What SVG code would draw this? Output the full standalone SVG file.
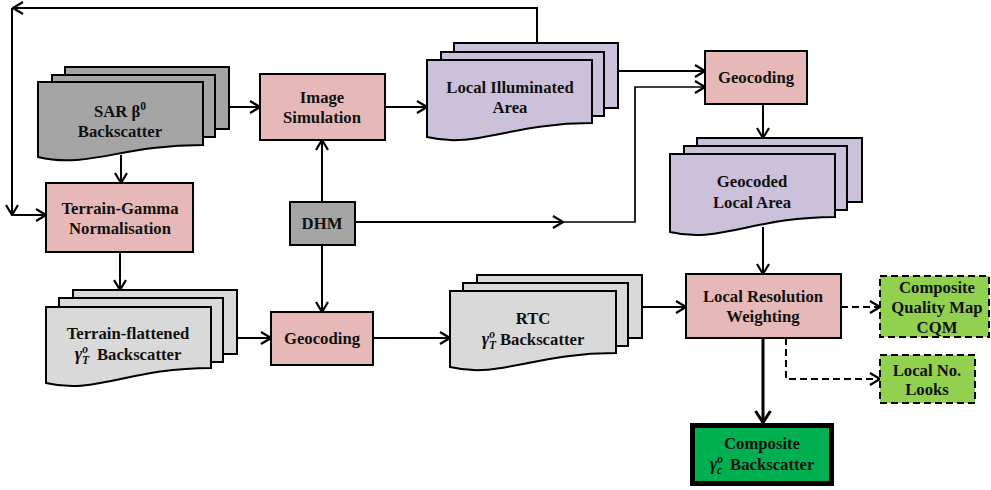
<svg xmlns="http://www.w3.org/2000/svg" width="991" height="490" viewBox="0 0 991 490">
<style>
text{font-family:"Liberation Serif","Times New Roman",serif;font-weight:bold;font-size:16.7px;fill:#111;text-anchor:middle}
.sh{stroke:#000;stroke-width:2}
.pink{fill:#e6b9b8}
.dg{fill:#a5a5a5}
.lg{fill:#d9d9d9}
.lav{fill:#ccc1da}
.lgr{fill:#92d050}
.grn{fill:#00b050}
.dash{stroke-dasharray:7 4}
.ln{fill:none;stroke:#000;stroke-width:2}
.it{font-style:italic;font-size:18px}
.sm{font-size:11.5px;font-style:italic}
</style>
<defs>
<marker id="ah" markerUnits="userSpaceOnUse" viewBox="0 0 12 14" refX="11" refY="7" markerWidth="12" markerHeight="14" orient="auto">
<path d="M1,1 L11,7 L1,13" fill="none" stroke="#000" stroke-width="2.2"/>
</marker>
<marker id="ahb" markerUnits="userSpaceOnUse" viewBox="0 0 14 18" refX="13" refY="9" markerWidth="14" markerHeight="18" orient="auto">
<path d="M1,1.5 L12.5,9 L1,16.5" fill="none" stroke="#000" stroke-width="3"/>
</marker>
</defs>

<g id="connectors">
<path class="ln" d="M537,43 V8 H13" marker-end="url(#ah)"/>
<path class="ln" d="M12,8 V215" marker-end="url(#ah)"/>
<path class="ln" d="M12,215 H46" marker-end="url(#ah)"/>
<path class="ln" d="M229,107 H260" marker-end="url(#ah)"/>
<path class="ln" d="M121,155 V183" marker-end="url(#ah)"/>
<path class="ln" d="M385,107 H427" marker-end="url(#ah)"/>
<path class="ln" d="M322,202 V140" marker-end="url(#ah)"/>
<path class="ln" d="M355,222 H563" marker-end="url(#ah)"/>
<path class="ln" d="M563,222 H635 V87 H705" marker-end="url(#ah)" style="stroke-width:1.7"/>
<path class="ln" d="M618,71 H705" marker-end="url(#ah)"/>
<path class="ln" d="M763,104 V138" marker-end="url(#ah)"/>
<path class="ln" d="M120,252 V290" marker-end="url(#ah)"/>
<path class="ln" d="M322,245 V312" marker-end="url(#ah)"/>
<path class="ln" d="M237,338 H271" marker-end="url(#ah)"/>
<path class="ln" d="M373,338 H450" marker-end="url(#ah)"/>
<path class="ln" d="M642,307 H686" marker-end="url(#ah)"/>
<path class="ln" d="M763,227 V274" marker-end="url(#ah)"/>
<path class="ln" d="M763,338 V423" marker-end="url(#ahb)" style="stroke-width:3"/>
<path class="ln dash" d="M841,307 H880" marker-end="url(#ah)"/>
<path class="ln dash" d="M786,338 V379 H880" marker-end="url(#ah)"/>
</g>

<g id="sar">
<rect class="sh dg" x="65" y="67" width="164" height="62"/>
<rect class="sh dg" x="52" y="75" width="163" height="62"/>
<path class="sh dg" d="M38,82 H203 V145 C120.5,145 87.5,169 38,157 Z"/>
<text x="120" y="117">SAR  β<tspan font-size="11.5" dy="-7">0</tspan></text>
<text x="120" y="137">Backscatter</text>
</g>

<g id="image-simulation">
<rect class="sh pink" x="260" y="74" width="125" height="66"/>
<text x="322" y="103">Image</text>
<text x="322" y="123">Simulation</text>
</g>

<g id="local-illuminated">
<rect class="sh lav" x="454" y="43" width="164" height="65"/>
<rect class="sh lav" x="441" y="52" width="163" height="64"/>
<path class="sh lav" d="M427,60 H592 V123 C509.5,123 476.5,149 427,137 Z"/>
<text x="510" y="93">Local Illuminated</text>
<text x="510" y="113">Area</text>
</g>

<g id="geocoding-top">
<rect class="sh pink" x="705" y="51" width="102" height="53"/>
<text x="756" y="83">Geocoding</text>
</g>

<g id="geocoded-local-area">
<rect class="sh lav" x="697" y="138" width="165" height="64"/>
<rect class="sh lav" x="684" y="146" width="163" height="64"/>
<path class="sh lav" d="M670,154 H835 V217 C752.5,217 719.5,244 670,232 Z"/>
<text x="752" y="187">Geocoded</text>
<text x="752" y="208">Local Area</text>
</g>

<g id="terrain-gamma">
<rect class="sh pink" x="46" y="183" width="147" height="69"/>
<text x="120" y="214">Terrain-Gamma</text>
<text x="120" y="234">Normalisation</text>
</g>

<g id="dhm">
<rect class="sh dg" x="290" y="202" width="65" height="43"/>
<text x="322" y="229">DHM</text>
</g>

<g id="terrain-flattened">
<rect class="sh lg" x="73" y="290" width="164" height="64"/>
<rect class="sh lg" x="59" y="298" width="164" height="64"/>
<path class="sh lg" d="M46,307 H211 V368 C128.5,368 95.5,395 46,383 Z"/>
<text x="128" y="339">Terrain-flattened</text>
<text x="128" y="360"><tspan class="it">γ</tspan><tspan class="sm" dy="-7">o</tspan><tspan class="sm" dx="-6" dy="11">T</tspan><tspan dx="8" dy="-4">Backscatter</tspan></text>
</g>

<g id="geocoding-bottom">
<rect class="sh pink" x="271" y="312" width="102" height="53"/>
<text x="322" y="344">Geocoding</text>
</g>

<g id="rtc">
<rect class="sh lg" x="477" y="275" width="165" height="63"/>
<rect class="sh lg" x="463" y="283" width="165" height="63"/>
<path class="sh lg" d="M450,291 H616 V353 C533,353 499.8,379 450,367 Z"/>
<text x="533" y="324">RTC</text>
<text x="533" y="345"><tspan class="it">γ</tspan><tspan class="sm" dy="-7">o</tspan><tspan class="sm" dx="-6" dy="11">T</tspan><tspan dx="4" dy="-4">Backscatter</tspan></text>
</g>

<g id="local-resolution-weighting">
<rect class="sh pink" x="686" y="274" width="155" height="64"/>
<text x="763" y="302">Local Resolution</text>
<text x="763" y="322">Weighting</text>
</g>

<g id="cqm">
<rect class="sh lgr dash" x="880" y="276" width="109" height="61"/>
<text x="937" y="293">Composite</text>
<text x="937" y="313">Quality Map</text>
<text x="937" y="333">CQM</text>
</g>

<g id="local-looks">
<rect class="sh lgr dash" x="880" y="355" width="95" height="48"/>
<text x="927" y="376">Local No.</text>
<text x="927" y="395">Looks</text>
</g>

<g id="composite">
<rect class="grn" x="692.5" y="425.5" width="139" height="58" stroke="#000" stroke-width="5"/>
<text x="762" y="449">Composite</text>
<text x="762" y="470"><tspan class="it">γ</tspan><tspan class="sm" dy="-7">o</tspan><tspan class="sm" dx="-6" dy="11">c</tspan><tspan dx="8" dy="-4">Backscatter</tspan></text>
</g>
</svg>
